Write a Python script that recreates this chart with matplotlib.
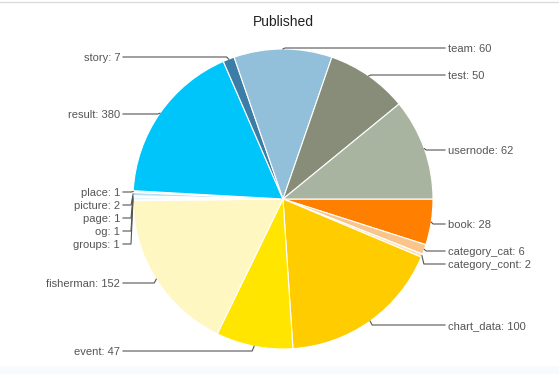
import numpy as np
import matplotlib
matplotlib.use("Agg")
import matplotlib.pyplot as plt

# categories, label values and slice weights (slice sizes)
categories = ["book", "category_cat", "category_cont", "chart_data", "event",
              "fisherman", "groups", "og", "page", "picture", "place",
              "result", "story", "team", "test", "usernode"]
label_values = [28, 6, 2, 100, 47, 152, 1, 1, 1, 2, 1, 380, 7, 60, 50, 62]
slice_sizes = [28, 6, 2, 100, 47, 100, 1, 1, 1, 2, 1, 100, 7, 60, 50, 62]
colors = ["#FF7F00", "#FBC48A", "#FFE3B8", "#FFCC00", "#FFE500",
          "#FFF7C2", "#DDF1FB", "#C9E6F5", "#E8F6FC", "#B9DDF0", "#D0EBF7",
          "#00C5FB", "#3B7DA6", "#92BFDA", "#878D79", "#A9B4A0"]

# label text rows (image pixel y) and side for each slice
label_rows = [224, 251, 264, 325, 351, 283, 244, 231, 218, 205, 192,
              114, 57, 48, 75, 150]
label_side = ["r", "r", "r", "r", "l", "l", "l", "l", "l", "l", "l",
              "l", "l", "r", "r", "r"]

W, H = 559, 374
cx, cy, R = 283, 199, 150

plt.rcParams['font.family'] = ['Liberation Sans', 'DejaVu Sans']

fig = plt.figure(figsize=(W / 100, H / 100), dpi=100)
ax = fig.add_axes([0, 0, 1, 1])

wedges, _ = ax.pie(slice_sizes, colors=colors, startangle=0, counterclock=False,
                   center=(cx, H - cy), radius=R, frame=True,
                   wedgeprops=dict(edgecolor='white', linewidth=0.8))
ax.set_xlim(0, W)
ax.set_ylim(0, H)
ax.set_aspect('equal')
ax.axis('off')

line_col = '#555555'
text_col = '#555555'
for w, name, val, row, side in zip(wedges, categories, label_values,
                                   label_rows, label_side):
    mid = np.deg2rad((w.theta1 + w.theta2) / 2)
    ex = cx + R * np.cos(mid)
    ey = H - cy + R * np.sin(mid)
    ly = H - row
    if side == "r":
        tx = 448
        xs = [ex, ex + 2, tx - 3]
        ha = 'left'
    else:
        tx = 120
        xs = [ex, ex - 2, tx + 3]
        ha = 'right'
    ax.plot(xs, [ey, ly, ly], color=line_col, linewidth=0.8)
    ax.text(tx, ly - 1, f"{name}: {val}", ha=ha, va='center', fontsize=8,
            color=text_col)

ax.text(cx, H - 22, "Published", ha='center', va='center', fontsize=10,
        color='#222222')

# faint frame line at top and shaded strip at bottom
ax.plot([0, W], [H - 2, H - 2], color='#DDDDDD', linewidth=1)
ax.add_patch(plt.Rectangle((0, 0), W, 8, color='#F8FAFC', zorder=0))

fig.savefig("out.png", dpi=100)
